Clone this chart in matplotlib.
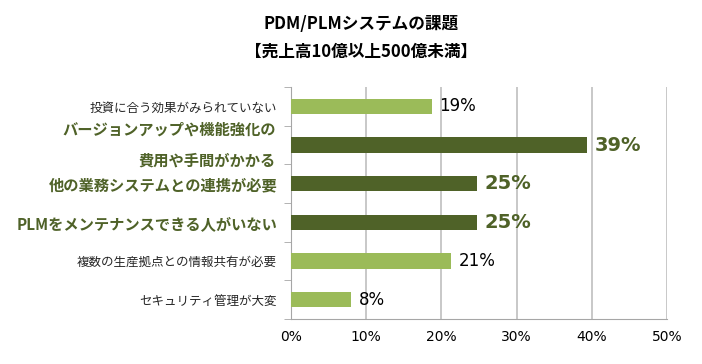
import matplotlib.pyplot as plt
import numpy as np

plt.rcParams["font.family"] = ["Noto Sans CJK JP", "DejaVu Sans"]

categories = [
    "投資に合う効果がみられていない",
    "バージョンアップや機能強化の\n費用や手間がかかる",
    "他の業務システムとの連携が必要",
    "PLMをメンテナンスできる人がいない",
    "複数の生産拠点との情報共有が必要",
    "セキュリティ管理が大変",
]
values = [18.7, 39.4, 24.7, 24.7, 21.3, 8.0]
highlight = [False, True, True, True, False, False]

light = "#9BBB59"
dark = "#4F6228"

fig = plt.figure(figsize=(7.02, 3.64), dpi=100)
ax = fig.add_axes([0.4145, 0.1236, 0.5355, 0.637])

y = np.arange(len(categories))
colors = [dark if h else light for h in highlight]
bars = ax.barh(y, values, height=0.4, color=colors, zorder=3)

ax.set_xlim(0, 50)
ax.set_ylim(len(categories) - 0.5, -0.5)
ax.set_xticks(np.arange(0, 51, 10))
ax.set_xticklabels([f"{t}%" for t in range(0, 51, 10)], family="DejaVu Sans", fontsize=10)
ax.xaxis.grid(True, color="#BFBFBF", linewidth=1.2, zorder=0)
ax.tick_params(axis="x", length=0, pad=8)

ax.set_yticks(y)
ax.set_yticks(np.arange(-0.5, len(categories)), minor=True)
ax.tick_params(axis="y", which="major", length=0, pad=10)
ax.tick_params(axis="y", which="minor", length=5, color="#A6A6A6", direction="out")
ax.set_yticklabels(["" if "\n" in c else c for c in categories])
for lab, h in zip(ax.get_yticklabels(), highlight):
    if h:
        lab.set_fontsize(11)
        lab.set_fontweight("bold")
        lab.set_color(dark)
    else:
        lab.set_fontsize(9)
        lab.set_color("#262626")

# two-line label drawn as separate lines
for i, c in enumerate(categories):
    if "\n" in c:
        lines = c.split("\n")
        offs = np.linspace(-0.4, 0.4, len(lines))
        for line, o in zip(lines, offs):
            ax.text(-0.04, i + o, line, transform=ax.get_yaxis_transform(),
                    ha="right", va="center", fontsize=11, fontweight="bold",
                    color=dark)

for s in ["top", "right"]:
    ax.spines[s].set_visible(False)
for s in ["left", "bottom"]:
    ax.spines[s].set_color("#A6A6A6")

for b, v, h in zip(bars, values, highlight):
    ax.text(v + 1.0, b.get_y() + b.get_height() / 2, f"{round(v)}%",
            va="center", ha="left", family="DejaVu Sans",
            fontsize=14 if h else 12,
            fontweight="bold" if h else "normal",
            color=dark if h else "black")

fig.text(0.515, 0.935, "PDM/PLMシステムの課題", ha="center", va="center",
         fontsize=12, fontweight="bold")
fig.text(0.515, 0.857, "【売上高10億以上500億未満】", ha="center", va="center",
         fontsize=12, fontweight="bold")

fig.savefig("out.png", dpi=100)
